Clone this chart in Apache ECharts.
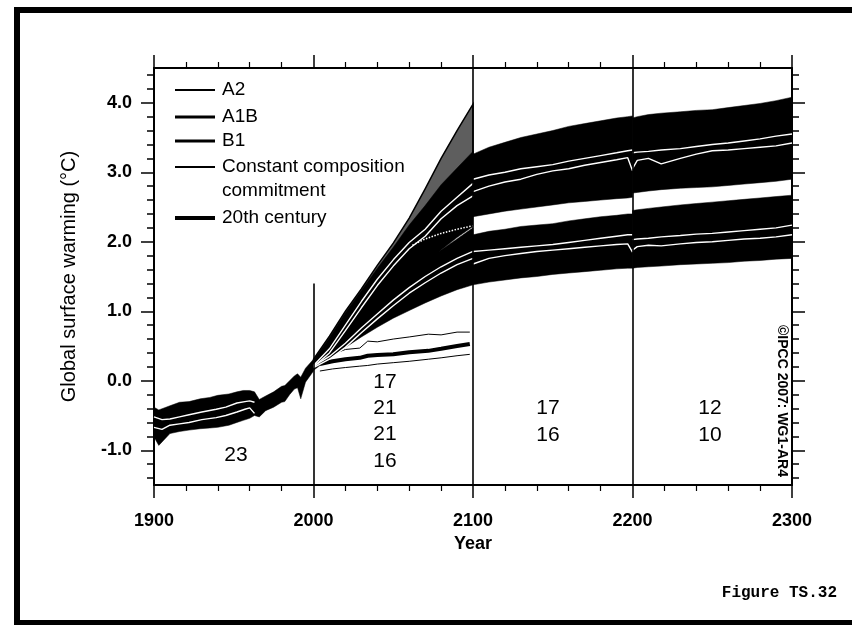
<!DOCTYPE html>
<html>
<head>
<meta charset="utf-8">
<title>Global surface warming</title>
<script src="https://cdn.jsdelivr.net/npm/echarts@6/dist/echarts.min.js"></script>
<style>
  html, body { margin: 0; padding: 0; background: #fff; }
  #chart { width: 852px; height: 629px; }
</style>
</head>
<body>
<div id="chart"></div>
<script>
// ---- data (°C relative to 1980-1999) ----

// 20th century runs, 1900-2000: +/- 1 sd envelope
const c20Years = [1900, 1903, 1910, 1916, 1922, 1929, 1935, 1940, 1947, 1952, 1956, 1960, 1963, 1966, 1970, 1975, 1980, 1982, 1985, 1988, 1990, 1992, 1995, 2000];
const c20Hi    = [-0.38, -0.42, -0.36, -0.31, -0.30, -0.26, -0.24, -0.21, -0.19, -0.16, -0.14, -0.14, -0.16, -0.27, -0.22, -0.16, -0.08, -0.07, 0.00, 0.07, 0.10, 0.05, 0.18, 0.31];
const c20Lo    = [-0.81, -0.93, -0.76, -0.73, -0.71, -0.69, -0.68, -0.67, -0.64, -0.60, -0.57, -0.54, -0.50, -0.52, -0.43, -0.38, -0.31, -0.30, -0.20, -0.12, -0.10, -0.26, -0.02, 0.14];
// the two white mean lines inside the 20th century band
const c20MeanYears = [1900, 1905, 1910, 1916, 1922, 1930, 1939, 1945, 1952, 1957, 1960, 1963];
const c20MeanHi    = [-0.52, -0.56, -0.55, -0.52, -0.49, -0.45, -0.41, -0.38, -0.32, -0.30, -0.29, -0.31];
const c20MeanLo    = [-0.67, -0.70, -0.64, -0.62, -0.60, -0.56, -0.53, -0.50, -0.45, -0.41, -0.39, -0.47];

// scenarios 2000-2100
const scYears   = [2000, 2010, 2020, 2030, 2040, 2050, 2060, 2070, 2080, 2090, 2100];
const a2Hi      = [0.31, 0.64, 1.00, 1.32, 1.66, 1.98, 2.34, 2.76, 3.20, 3.60, 3.98];
const a2Lo      = [0.26, 0.52, 0.80, 1.08, 1.38, 1.68, 2.00, 2.36, 2.70, 3.00, 3.26];
const a1bHi     = [0.30, 0.62, 0.98, 1.30, 1.62, 1.92, 2.24, 2.52, 2.82, 3.06, 3.30];
const a1bLo     = [0.18, 0.36, 0.55, 0.74, 0.93, 1.14, 1.40, 1.66, 1.88, 2.06, 2.22];
const b1Hi      = [0.26, 0.48, 0.70, 0.92, 1.12, 1.34, 1.54, 1.72, 1.88, 2.04, 2.20];
const b1Lo      = [0.15, 0.32, 0.48, 0.63, 0.77, 0.90, 1.01, 1.12, 1.22, 1.31, 1.38];
const a1bMeanHi = [0.22, 0.46, 0.80, 1.14, 1.46, 1.74, 1.99, 2.18, 2.44, 2.64, 2.84];
const a1bMeanLo = [0.20, 0.40, 0.72, 1.05, 1.37, 1.65, 1.90, 2.08, 2.33, 2.52, 2.66];
const b1MeanHi  = [0.21, 0.35, 0.54, 0.76, 0.96, 1.16, 1.34, 1.50, 1.64, 1.76, 1.86];
const b1MeanLo  = [0.19, 0.31, 0.48, 0.69, 0.89, 1.08, 1.26, 1.41, 1.55, 1.67, 1.76];
// dotted white seam between the A1B and B1 bands
const seamYears = [2062, 2070, 2080, 2090, 2100];
const seamVals  = [1.95, 2.04, 2.12, 2.18, 2.23];

// constant composition commitment, 2000-2100
const ccYears = [2004, 2012, 2020, 2029, 2034, 2040, 2050, 2060, 2072, 2080, 2090, 2098];
const ccHi    = [0.30, 0.38, 0.45, 0.47, 0.57, 0.56, 0.60, 0.63, 0.67, 0.66, 0.70, 0.70];
const ccMean  = [0.24, 0.28, 0.31, 0.33, 0.36, 0.37, 0.38, 0.41, 0.43, 0.46, 0.50, 0.53];
const ccLo    = [0.14, 0.17, 0.19, 0.21, 0.22, 0.24, 0.26, 0.28, 0.31, 0.33, 0.36, 0.38];

// commitment runs 2100-2200
const p2Years    = [2100, 2110, 2120, 2130, 2140, 2150, 2160, 2170, 2180, 2190, 2197, 2200];
const a1bHi2     = [3.26, 3.36, 3.43, 3.50, 3.55, 3.60, 3.66, 3.70, 3.74, 3.78, 3.80, 3.81];
const a1bLo2     = [2.36, 2.40, 2.44, 2.47, 2.50, 2.53, 2.56, 2.58, 2.60, 2.62, 2.63, 2.64];
const a1bMeanHi2 = [2.90, 2.96, 3.00, 3.05, 3.08, 3.11, 3.16, 3.20, 3.24, 3.28, 3.31, 3.32];
const a1bMeanLo2 = [2.72, 2.80, 2.86, 2.90, 2.97, 3.02, 3.05, 3.10, 3.14, 3.18, 3.21, 3.02];
const b1Hi2      = [2.10, 2.15, 2.18, 2.22, 2.24, 2.26, 2.30, 2.33, 2.36, 2.38, 2.40, 2.40];
const b1Lo2      = [1.38, 1.42, 1.45, 1.48, 1.50, 1.53, 1.55, 1.57, 1.59, 1.61, 1.62, 1.62];
const b1MeanHi2  = [1.86, 1.88, 1.90, 1.92, 1.94, 1.96, 1.99, 2.02, 2.05, 2.08, 2.10, 2.10];
const b1MeanLo2  = [1.68, 1.76, 1.80, 1.83, 1.86, 1.88, 1.90, 1.92, 1.94, 1.96, 1.97, 1.85];

// commitment runs 2200-2300
const p3Years    = [2200, 2203, 2210, 2218, 2230, 2240, 2250, 2260, 2270, 2280, 2290, 2300];
const a1bHi3     = [3.78, 3.80, 3.83, 3.85, 3.87, 3.89, 3.90, 3.93, 3.96, 3.99, 4.03, 4.08];
const a1bLo3     = [2.70, 2.71, 2.73, 2.75, 2.77, 2.78, 2.79, 2.81, 2.83, 2.85, 2.87, 2.90];
const a1bMeanHi3 = [3.28, 3.29, 3.30, 3.32, 3.34, 3.37, 3.40, 3.42, 3.45, 3.48, 3.52, 3.55];
const a1bMeanLo3 = [3.05, 3.17, 3.20, 3.12, 3.20, 3.26, 3.31, 3.32, 3.34, 3.36, 3.38, 3.42];
const b1Hi3      = [2.45, 2.46, 2.48, 2.50, 2.53, 2.55, 2.57, 2.59, 2.61, 2.63, 2.65, 2.67];
const b1Lo3      = [1.62, 1.63, 1.64, 1.65, 1.67, 1.68, 1.69, 1.70, 1.72, 1.73, 1.75, 1.76];
const b1MeanHi3  = [2.03, 2.04, 2.05, 2.07, 2.09, 2.11, 2.12, 2.14, 2.16, 2.18, 2.20, 2.24];
const b1MeanLo3  = [1.88, 1.93, 1.95, 1.94, 1.97, 1.99, 2.00, 2.02, 2.04, 2.05, 2.07, 2.10];

// axis ticks
const yMajorTicks = [-1, 0, 1, 2, 3, 4];
const yMinorTicks = [-1.4, -1.2, -0.8, -0.6, -0.4, -0.2, 0.2, 0.4, 0.6, 0.8, 1.2, 1.4, 1.6, 1.8,
                     2.2, 2.4, 2.6, 2.8, 3.2, 3.4, 3.6, 3.8, 4.2, 4.4];

// number of models in each period
const modelCounts = [
  { text: '23', x: 236, y: 455 },
  { text: '17', x: 385, y: 382 },
  { text: '21', x: 385, y: 408 },
  { text: '21', x: 385, y: 434 },
  { text: '16', x: 385, y: 461 },
  { text: '17', x: 548, y: 408 },
  { text: '16', x: 548, y: 435 },
  { text: '12', x: 710, y: 408 },
  { text: '10', x: 710, y: 435 }
];

// ---- chart ----
const sans = '"Liberation Sans", Arial, Helvetica, sans-serif';
const mono = '"Liberation Mono", "Courier New", monospace';

function pairs(xs, ys) {
  return xs.map(function (x, i) { return [x, ys[i]]; });
}

// filled envelope between lo and hi, drawn as one polygon through the axes
function band(name, xs, lo, hi, fill, stroke) {
  return {
    name: name,
    type: 'custom',
    silent: true,
    clip: true,
    encode: { x: 0, y: [1, 2] },
    data: xs.map(function (x, i) { return [x, lo[i], hi[i]]; }),
    renderItem: function (params, api) {
      if (params.dataIndex !== 0) return null;
      const pts = [];
      for (let i = 0; i < xs.length; i++) pts.push(api.coord([xs[i], hi[i]]));
      for (let i = xs.length - 1; i >= 0; i--) pts.push(api.coord([xs[i], lo[i]]));
      return {
        type: 'polygon',
        shape: { points: pts },
        style: { fill: fill, stroke: stroke || fill, lineWidth: stroke ? 1.5 : 0.5 }
      };
    }
  };
}

function line(name, xs, ys, color, width, type) {
  return {
    name: name,
    type: 'line',
    silent: true,
    symbol: 'none',
    data: pairs(xs, ys),
    lineStyle: { color: color, width: width, type: type || 'solid' }
  };
}

const whiteW = 1.4;

const series = [
  line('cc upper', ccYears, ccHi, '#000', 1),
  line('cc lower', ccYears, ccLo, '#000', 1),
  line('Constant composition commitment', ccYears, ccMean, '#000', 4),
  band('A2', scYears, a2Lo, a2Hi, '#5e5e5e', '#000'),
  band('A1B', scYears, a1bLo, a1bHi, '#000'),
  band('B1', scYears, b1Lo, b1Hi, '#000'),
  band('A1B 2100-2200', p2Years, a1bLo2, a1bHi2, '#000'),
  band('B1 2100-2200', p2Years, b1Lo2, b1Hi2, '#000'),
  band('A1B 2200-2300', p3Years, a1bLo3, a1bHi3, '#000'),
  band('B1 2200-2300', p3Years, b1Lo3, b1Hi3, '#000'),
  band('20th century', c20Years, c20Lo, c20Hi, '#000'),
  line('20c mean a', c20MeanYears, c20MeanHi, '#fff', whiteW),
  line('20c mean b', c20MeanYears, c20MeanLo, '#fff', whiteW),
  line('A1B mean a', scYears, a1bMeanHi, '#fff', whiteW),
  line('A1B mean b', scYears, a1bMeanLo, '#fff', whiteW),
  line('B1 mean a', scYears, b1MeanHi, '#fff', whiteW),
  line('B1 mean b', scYears, b1MeanLo, '#fff', whiteW),
  line('seam', seamYears, seamVals, '#fff', 1.5, 'dotted'),
  line('A1B mean a2', p2Years, a1bMeanHi2, '#fff', whiteW),
  line('A1B mean b2', p2Years, a1bMeanLo2, '#fff', whiteW),
  line('B1 mean a2', p2Years, b1MeanHi2, '#fff', whiteW),
  line('B1 mean b2', p2Years, b1MeanLo2, '#fff', whiteW),
  line('A1B mean a3', p3Years, a1bMeanHi3, '#fff', whiteW),
  line('A1B mean b3', p3Years, a1bMeanLo3, '#fff', whiteW),
  line('B1 mean a3', p3Years, b1MeanHi3, '#fff', whiteW),
  line('B1 mean b3', p3Years, b1MeanLo3, '#fff', whiteW)
];

// period dividers
series.push({
  name: 'dividers',
  type: 'line',
  silent: true,
  data: [],
  markLine: {
    silent: true,
    symbol: 'none',
    label: { show: false },
    lineStyle: { color: '#000', width: 1.6, type: 'solid' },
    data: [
      { xAxis: 2100 },
      { xAxis: 2200 },
      [{ coord: [2000, 1.4] }, { coord: [2000, -1.5] }]
    ]
  }
});

function yAxisDef(position, ticks, len, showLine, labels) {
  return {
    type: 'value',
    position: position,
    min: -1.5,
    max: 4.5,
    splitLine: { show: false },
    axisLine: { show: showLine, onZero: false, lineStyle: { color: '#000', width: 2 } },
    axisTick: { show: true, inside: false, length: len, customValues: ticks, lineStyle: { color: '#000', width: 1.5 } },
    axisLabel: {
      show: labels,
      customValues: ticks,
      margin: 22,
      color: '#000',
      fontFamily: sans,
      fontWeight: 'bold',
      fontSize: 18,
      formatter: function (v) { return v.toFixed(1); }
    },
    name: labels ? 'Global surface warming (\u00B0C)' : '',
    nameLocation: 'middle',
    nameGap: 75,
    nameTextStyle: { color: '#000', fontFamily: sans, fontSize: 20 }
  };
}

function xAxisDef(position, labels) {
  return {
    type: 'value',
    position: position,
    min: 1900,
    max: 2300,
    interval: 100,
    splitLine: { show: false },
    axisLine: { show: true, onZero: false, lineStyle: { color: '#000', width: 2 } },
    axisTick: { show: true, length: 13, lineStyle: { color: '#000', width: 1.5 } },
    minorTick: { show: true, splitNumber: 5, length: 6, lineStyle: { color: '#000', width: 1.2 } },
    axisLabel: {
      show: labels,
      margin: 27,
      color: '#000',
      fontFamily: sans,
      fontWeight: 'bold',
      fontSize: 18,
      formatter: function (v) { return String(v); }
    },
    name: labels ? 'Year' : '',
    nameLocation: 'middle',
    nameGap: 50,
    nameTextStyle: { color: '#000', fontFamily: sans, fontWeight: 'bold', fontSize: 18 }
  };
}

// legend drawn by hand: short line + label
const legendRows = [
  { label: 'A2', y: 90, w: 2 },
  { label: 'A1B', y: 117, w: 3 },
  { label: 'B1', y: 141, w: 3 },
  { label: 'Constant composition', y: 167, w: 2 },
  { label: 'commitment', y: 191, w: 0 },
  { label: '20th century', y: 218, w: 4 }
];

const graphic = [
  // scanned page frame
  { type: 'rect', shape: { x: 14, y: 7, width: 838, height: 6 }, style: { fill: '#000' } },
  { type: 'rect', shape: { x: 14, y: 7, width: 6, height: 618 }, style: { fill: '#000' } },
  { type: 'rect', shape: { x: 14, y: 620, width: 838, height: 5 }, style: { fill: '#000' } }
];

legendRows.forEach(function (r) {
  if (r.w) {
    graphic.push({ type: 'line', shape: { x1: 175, y1: r.y, x2: 215, y2: r.y }, style: { stroke: '#000', lineWidth: r.w } });
  }
  graphic.push({
    type: 'text', x: 222, y: r.y,
    style: { text: r.label, fill: '#000', fontFamily: sans, fontSize: 19, align: 'left', verticalAlign: 'middle' }
  });
});

modelCounts.forEach(function (m) {
  graphic.push({
    type: 'text', x: m.x, y: m.y,
    style: { text: m.text, fill: '#000', fontFamily: sans, fontSize: 21, align: 'center', verticalAlign: 'middle' }
  });
});

graphic.push({
  type: 'text', x: 782, y: 401, rotation: -Math.PI / 2,
  style: { text: '\u00A9IPCC 2007: WG1-AR4', fill: '#000', fontFamily: sans, fontWeight: 'bold', fontSize: 14, align: 'center', verticalAlign: 'middle' }
});
graphic.push({
  type: 'text', x: 837, y: 593,
  style: { text: 'Figure TS.32', fill: '#000', fontFamily: mono, fontWeight: 'bold', fontSize: 16, align: 'right', verticalAlign: 'middle' }
});

const chart = echarts.init(document.getElementById('chart'), null, { renderer: 'canvas' });
chart.setOption({
  animation: false,
  backgroundColor: '#fff',
  grid: { left: 154, right: 60, top: 68, bottom: 144, containLabel: false },
  xAxis: [xAxisDef('bottom', true), xAxisDef('top', false)],
  yAxis: [
    yAxisDef('left', yMajorTicks, 13, true, true),
    yAxisDef('left', yMinorTicks, 7, false, false),
    yAxisDef('right', yMajorTicks, 13, true, false),
    yAxisDef('right', yMinorTicks, 7, false, false)
  ],
  series: series,
  graphic: graphic
});
</script>
</body>
</html>
